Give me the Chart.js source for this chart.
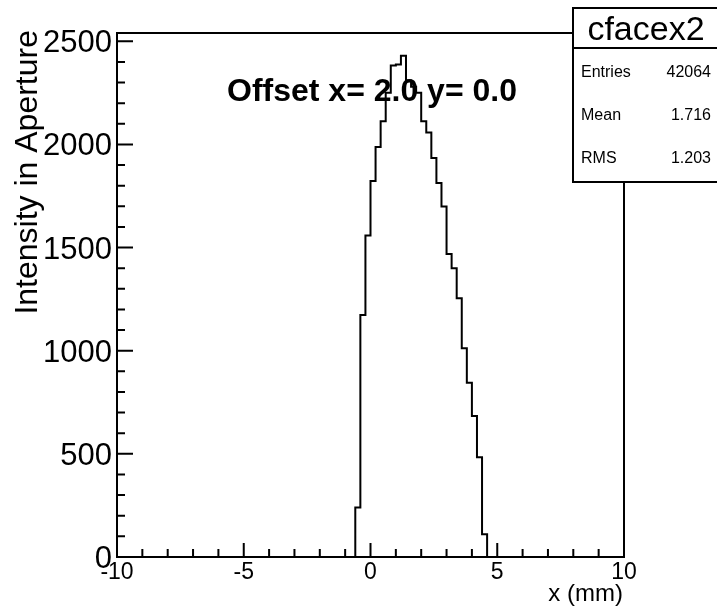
<!DOCTYPE html>
<html>
<head>
<meta charset="utf-8">
<script src="https://cdn.jsdelivr.net/npm/chart.js@4.4.1/dist/chart.umd.min.js"></script>
<style>
  body { margin: 0; background: #fff; }
  canvas { display: block; }
</style>
</head>
<body>
<canvas id="myChart" width="717" height="609"></canvas>
<script>
// bin low edges (mm), bin width 0.2
const binLow = [-0.6, -0.4, -0.2, 0.0, 0.2, 0.4, 0.6, 0.8, 1.0, 1.2, 1.4, 1.6, 1.8,
                2.0, 2.2, 2.4, 2.6, 2.8, 3.0, 3.2, 3.4, 3.6, 3.8, 4.0, 4.2, 4.4];
const counts = [240, 1173, 1558, 1823, 1987, 2112, 2250, 2382, 2387, 2430, 2310, 2280, 2250,
                2112, 2058, 1934, 1813, 1699, 1469, 1400, 1254, 1012, 845, 683, 483, 110];
const binWidth = 0.2;

const xTicks = [-10, -5, 0, 5, 10];
const yTicks = [0, 500, 1000, 1500, 2000, 2500];

const histName = 'cfacex2';
const statNames = ['Entries', 'Mean', 'RMS'];
const statValues = ['42064', '1.716', '1.203'];
const plotTitle = 'Offset x= 2.0 y= 0.0';

// outline points for a step line
let pts = [{x: binLow[0], y: 0}];
binLow.forEach((b, i) => pts.push({x: b, y: counts[i]}));
pts.push({x: binLow[binLow.length - 1] + binWidth, y: 0});

const FONT = '"Liberation Sans", Arial, Helvetica, sans-serif';

const rootFrame = {
  id: 'rootFrame',
  afterDatasetsDraw(chart) {
    const ctx = chart.ctx;
    const xs = chart.scales.x, ys = chart.scales.y;
    const a = chart.chartArea;
    ctx.save();
    ctx.strokeStyle = '#000';
    ctx.fillStyle = '#000';
    ctx.lineWidth = 2;

    // frame
    ctx.strokeRect(a.left, a.top, a.right - a.left, a.bottom - a.top);

    // x ticks
    ctx.beginPath();
    for (let v = -10; v <= 10; v += 1) {
      const px = xs.getPixelForValue(v);
      const len = (v % 5 === 0) ? 14 : 8;
      ctx.moveTo(px, a.bottom);
      ctx.lineTo(px, a.bottom - len);
    }
    // y ticks
    for (let v = 0; v <= ys.max; v += 100) {
      const py = ys.getPixelForValue(v);
      const len = (v % 500 === 0) ? 16 : 8;
      ctx.moveTo(a.left, py);
      ctx.lineTo(a.left + len, py);
    }
    ctx.stroke();

    // tick labels
    ctx.font = '23px ' + FONT;
    ctx.textAlign = 'center';
    ctx.textBaseline = 'alphabetic';
    xTicks.forEach(v => ctx.fillText(String(v), xs.getPixelForValue(v), 579));

    ctx.font = '31px ' + FONT;
    ctx.textAlign = 'right';
    yTicks.forEach(v => ctx.fillText(String(v), 112, ys.getPixelForValue(v) + 11));

    // axis titles
    ctx.font = '24px ' + FONT;
    ctx.textAlign = 'right';
    ctx.fillText('x (mm)', 623, 601);

    ctx.save();
    ctx.translate(37, 30);
    ctx.rotate(-Math.PI / 2);
    ctx.font = '32px ' + FONT;
    ctx.textAlign = 'right';
    ctx.fillText('Intensity in Aperture', 0, 0);
    ctx.restore();

    // title
    ctx.font = 'bold 32px ' + FONT;
    ctx.textAlign = 'center';
    ctx.fillText(plotTitle, 372, 101);

    // stats box
    const bx = 573, by = 8, bw = 150, bh = 174;
    ctx.fillStyle = '#fff';
    ctx.fillRect(bx, by, bw, bh);
    ctx.strokeRect(bx, by, bw, bh);
    ctx.beginPath();
    ctx.moveTo(bx, 48);
    ctx.lineTo(bx + bw, 48);
    ctx.stroke();
    ctx.fillStyle = '#000';
    ctx.font = '34px ' + FONT;
    ctx.textAlign = 'center';
    ctx.fillText(histName, 646, 40);
    ctx.font = '16px ' + FONT;
    const rowY = [77, 120, 163];
    statNames.forEach((n, i) => {
      ctx.textAlign = 'left';
      ctx.fillText(n, 581, rowY[i]);
      ctx.textAlign = 'right';
      ctx.fillText(statValues[i], 711, rowY[i]);
    });
    ctx.restore();
  }
};

const GraphHist = document.getElementById('myChart');
const hist = new Chart(GraphHist, {
  type: 'line',
  data: {
    datasets: [{
      label: histName,
      data: pts,
      stepped: 'before',
      borderColor: '#000',
      borderWidth: 2,
      pointRadius: 0,
      fill: false,
    }]
  },
  options: {
    responsive: false,
    animation: false,
    devicePixelRatio: 1,
    layout: { padding: { left: 117, right: 93, top: 33, bottom: 52 } },
    scales: {
      x: { type: 'linear', min: -10, max: 10, display: false },
      y: { type: 'linear', min: 0, max: 2540, display: false }
    },
    plugins: {
      legend: { display: false },
      tooltip: { enabled: false }
    }
  },
  plugins: [rootFrame]
});
</script>
</body>
</html>
